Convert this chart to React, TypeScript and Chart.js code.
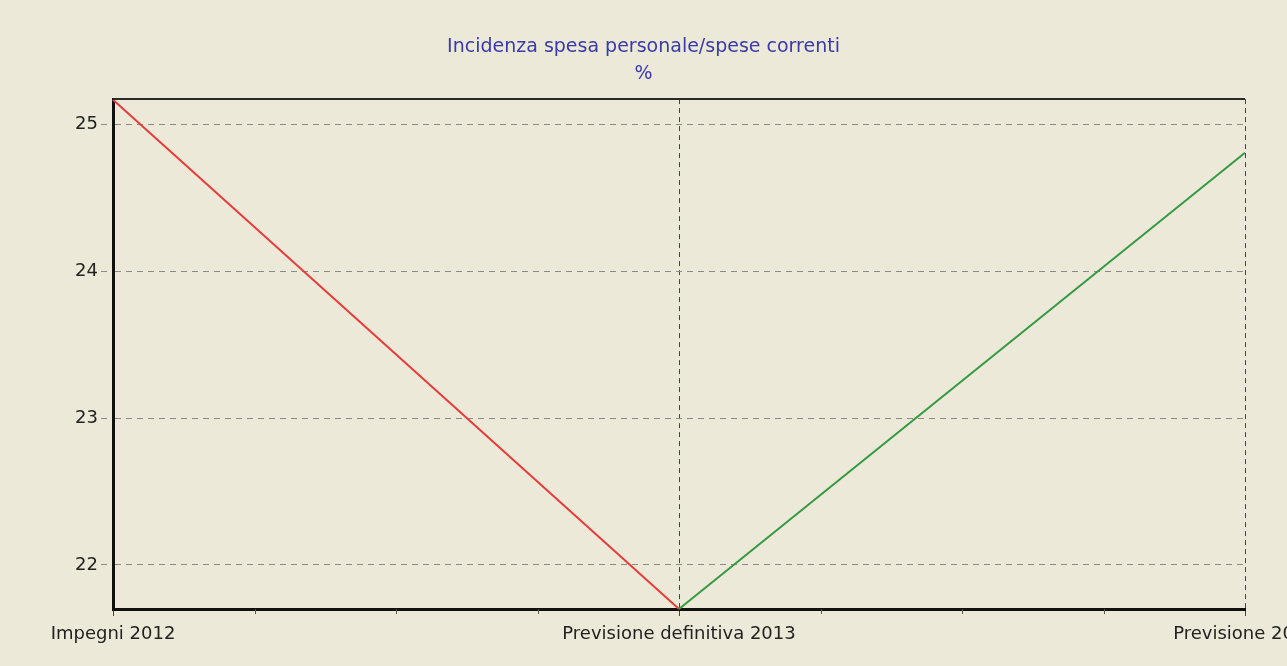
import React, { useEffect, useRef } from "react";
import { Chart, registerables } from "chart.js";

Chart.register(...registerables);

const categories = ["Impegni 2012", "Previsione definitiva 2013", "Previsione 2014"];
const values = [25.17, 21.7, 24.81];
const titleLines = ["Incidenza spesa personale/spese correnti", "%"];
const yMin = 21.7;
const yMax = 25.175;

const BG = "#ECE9D8";

export default function App() {
  const ref = useRef<HTMLCanvasElement | null>(null);

  useEffect(() => {
    document.body.style.margin = "0";
    document.body.style.background = BG;
    const canvas = ref.current;
    if (!canvas) return;

    const bgPlugin = {
      id: "bg",
      beforeDraw(chart: any) {
        const { ctx, width, height } = chart;
        ctx.save();
        ctx.fillStyle = BG;
        ctx.fillRect(0, 0, width, height);
        ctx.restore();
      },
      afterDatasetsDraw(chart: any) {
        const { ctx, chartArea } = chart;
        const x = chart.scales.x;
        ctx.save();
        // top frame line
        ctx.strokeStyle = "#2a2a2a";
        ctx.lineWidth = 2;
        ctx.beginPath();
        ctx.moveTo(chartArea.left, chartArea.top);
        ctx.lineTo(chartArea.right, chartArea.top);
        ctx.stroke();
        // minor ticks on x axis
        ctx.strokeStyle = "#555";
        ctx.lineWidth = 1;
        for (let i = 0; i < categories.length - 1; i++) {
          for (let k = 1; k < 4; k++) {
            const px = Math.round(x.getPixelForValue(i + k / 4)) + 0.5;
            ctx.beginPath();
            ctx.moveTo(px, chartArea.bottom);
            ctx.lineTo(px, chartArea.bottom + 5);
            ctx.stroke();
          }
        }
        ctx.restore();
      },
    };

    const chart = new Chart(canvas, {
      type: "line",
      data: {
        labels: categories,
        datasets: [
          {
            data: values,
            borderWidth: 2,
            pointRadius: 0,
            tension: 0,
            borderColor: "#e63c3c",
            segment: {
              borderColor: (c: any) => (c.p0DataIndex === 0 ? "#e63c3c" : "#349a42"),
            },
            clip: false as any,
          },
        ],
      },
      plugins: [bgPlugin],
      options: {
        responsive: false,
        animation: false,
        layout: { padding: { left: 0, right: 0, top: 0, bottom: 0 } },
        plugins: {
          legend: { display: false },
          tooltip: { enabled: false },
          title: {
            display: true,
            text: titleLines,
            color: "#3a3aa8",
            font: { family: "'DejaVu Sans', sans-serif", size: 19, weight: "normal", lineHeight: 1.45 },
            padding: { top: 33, bottom: 11 },
          },
        },
        scales: {
          x: {
            type: "category",
            offset: false,
            grid: {
              color: "#444",
              tickLength: 7,
              tickBorderDash: [5, 4] as any,
              tickColor: "#444",
              drawOnChartArea: true,
            } as any,
            border: { color: "#111", width: 3, dash: [5, 4] } as any,
            ticks: {
              color: "#222",
              font: { family: "'DejaVu Sans', sans-serif", size: 18 },
              padding: 8,
              maxRotation: 0,
              autoSkip: false,
            },
            afterFit(scale: any) {
              scale.height = 57;
              scale.paddingLeft = 0;
              scale.paddingRight = 42;
            },
          },
          y: {
            min: yMin,
            max: yMax,
            grid: {
              color: "#8a8a8a",
              tickLength: 12,
              tickBorderDash: [6, 5] as any,
              tickColor: "#8a8a8a",
            } as any,
            border: { color: "#111", width: 3, dash: [6, 5] } as any,
            ticks: {
              stepSize: 1,
              includeBounds: false,
              color: "#222",
              font: { family: "'DejaVu Sans', sans-serif", size: 18 },
              padding: 3,
            },
            afterFit(scale: any) {
              scale.width = 113;
              scale.paddingTop = 0;
              scale.paddingBottom = 0;
            },
          },
        },
      } as any,
    });

    return () => chart.destroy();
  }, []);

  return (
    <div style={{ width: 1287, height: 666, overflow: "hidden", background: BG }}>
      <canvas ref={ref} width={1287} height={666} style={{ display: "block" }} />
    </div>
  );
}
